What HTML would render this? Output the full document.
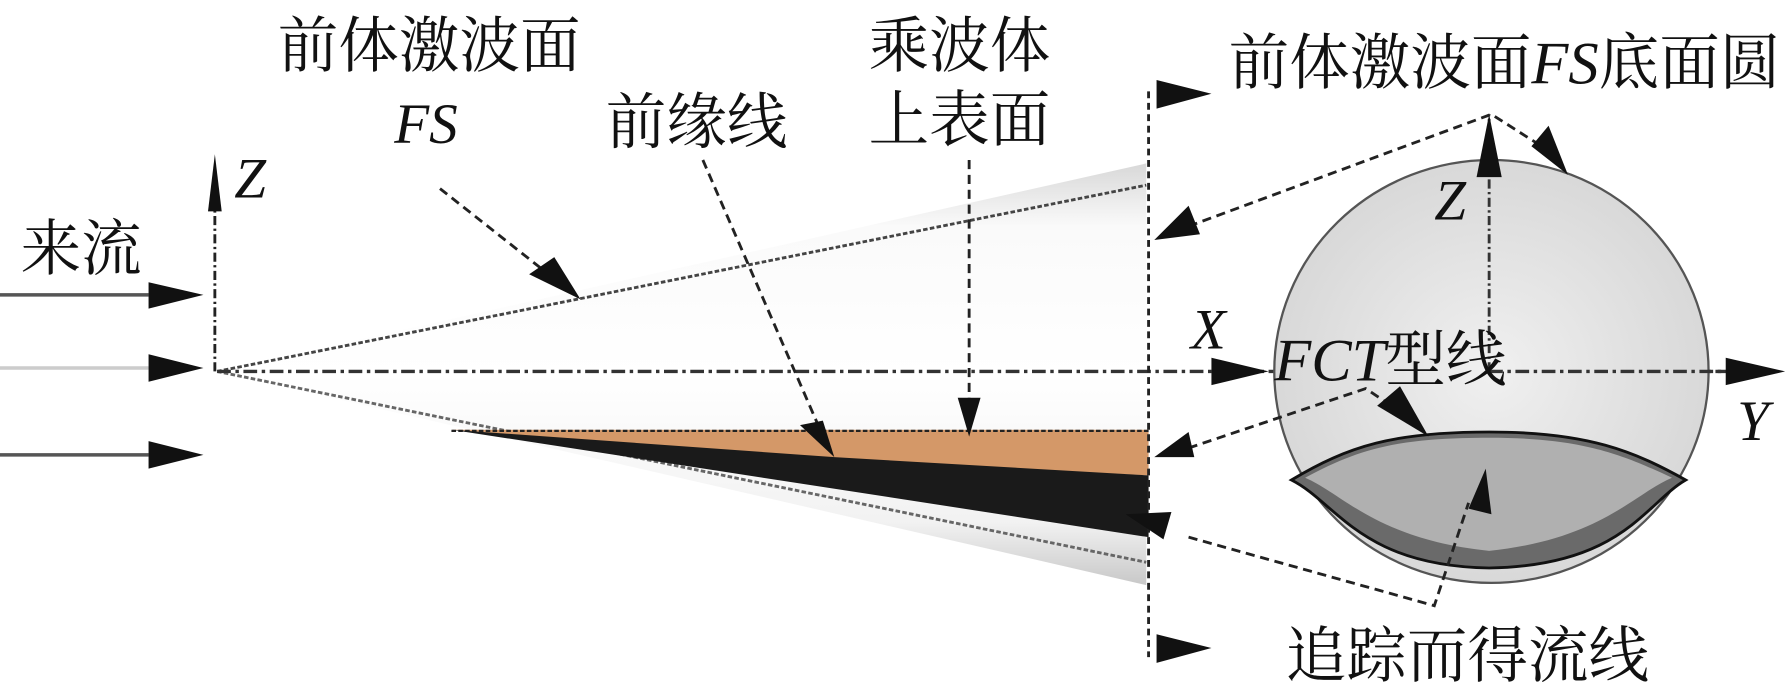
<!DOCTYPE html>
<html><head><meta charset="utf-8"><style>
html,body{margin:0;padding:0;background:#fff;width:1792px;height:696px;overflow:hidden}
svg{display:block}
text{font-family:"Liberation Serif","Noto Serif CJK SC",serif;fill:#111}
.cj{font-family:"Liberation Serif","Noto Serif CJK SC","Noto Sans CJK SC",serif;font-size:53px}
.it{font-style:italic;font-size:50px}
</style></head><body>
<svg width="1792" height="696" viewBox="0 0 1568 609" preserveAspectRatio="none">
<defs>
<linearGradient id="cone" x1="0" y1="0" x2="0" y2="1">
<stop offset="0" stop-color="#d8d8d8"/><stop offset="0.15" stop-color="#fafafa"/><stop offset="0.5" stop-color="#ffffff"/><stop offset="0.85" stop-color="#f2f2f2"/><stop offset="1" stop-color="#c8c8c8"/></linearGradient>
<radialGradient id="disc" cx="0.5" cy="0.5" r="0.55"><stop offset="0" stop-color="#f0f0f0"/><stop offset="1" stop-color="#d6d6d6"/></radialGradient>
</defs>
<polygon points="190,325 1003,143 1003,512" fill="url(#cone)"/>
<line x1="190" y1="325" x2="1003" y2="162" stroke="#444" stroke-width="2.5" stroke-dasharray="4,2"/>
<line x1="190" y1="325" x2="1003" y2="492" stroke="#666" stroke-width="2.5" stroke-dasharray="4,2"/>
<polygon points="395,376 1005,376 1005,416 730,402" fill="#d49868"/>
<line x1="395" y1="377" x2="1005" y2="377" stroke="#222" stroke-width="2" stroke-dasharray="4,2"/>
<polygon points="395,376 730,400 1005,416 1005,470" fill="#1a1a1a"/>
<line x1="188" y1="325" x2="188" y2="180" stroke="#222" stroke-width="2.5" stroke-dasharray="8,3,2,3"/>
<polygon points="182,185 194,185 188,135" fill="#111"/>
<text x="205" y="173" class="it">Z</text>
<line x1="0" y1="258" x2="130" y2="258" stroke="#555" stroke-width="3"/>
<polygon points="130,247 130,270 178,258" fill="#111"/>
<line x1="0" y1="322" x2="130" y2="322" stroke="#ccc" stroke-width="3"/>
<polygon points="130,310 130,334 178,322" fill="#111"/>
<line x1="0" y1="398" x2="130" y2="398" stroke="#555" stroke-width="3"/>
<polygon points="130,386 130,410 178,398" fill="#111"/>
<text x="18" y="236" class="cj">来流</text>
<line x1="190" y1="325" x2="1520" y2="325" stroke="#333" stroke-width="3" stroke-dasharray="12,4,3,4"/>
<ellipse cx="1305" cy="325" rx="190" ry="185" fill="url(#disc)" stroke="#555" stroke-width="2"/>
<path d="M1130,420 C1180,390 1220,378 1303,378 C1390,378 1430,395 1475,420 C1440,440 1420,495 1303,497 C1190,495 1170,440 1130,420 Z" fill="#6a6a6a" stroke="#111" stroke-width="2.5"/>
<path d="M1142,418 C1190,392 1225,383 1303,383 C1385,383 1420,398 1463,418 C1430,432 1400,472 1303,482 C1205,472 1175,432 1142,418 Z" fill="#b0b0b0"/>
<line x1="1303" y1="325" x2="1303" y2="100" stroke="#333" stroke-width="2.5" stroke-dasharray="8,3,2,3"/>
<line x1="1303" y1="325" x2="1510" y2="325" stroke="#333" stroke-width="3" stroke-dasharray="12,4,3,4"/>
<polygon points="1292,155 1314,155 1303,100" fill="#111"/>
<polygon points="1510,313 1510,337 1562,325" fill="#111"/>
<polygon points="1060,313 1060,337 1110,325" fill="#111"/>
<line x1="1005" y1="80" x2="1005" y2="575" stroke="#222" stroke-width="2.5" stroke-dasharray="6,4"/>
<polygon points="1012,70 1012,95 1060,82" fill="#111"/>
<polygon points="1012,555 1012,580 1060,567" fill="#111"/>
<g stroke="#222" stroke-width="2.5" stroke-dasharray="8,5" fill="none">
<line x1="385" y1="165" x2="480" y2="240"/>
<line x1="615" y1="140" x2="715" y2="370"/>
<line x1="848" y1="140" x2="848" y2="350"/>
<polyline points="1040,198 1305,100 1360,135"/>
<polyline points="1040,392 1195,340 1225,360"/>
<polyline points="1040,470 1255,530 1285,440"/>
</g>
<polygon points="463,240 485,225 508,262" fill="#111"/>
<polygon points="700,372 720,368 730,400" fill="#111"/>
<polygon points="838,348 858,348 848,382" fill="#111"/>
<polygon points="1010,210 1040,180 1050,205" fill="#111"/>
<polygon points="1340,128 1355,110 1372,153" fill="#111"/>
<polygon points="1010,400 1040,378 1045,400" fill="#111"/>
<polygon points="1205,355 1225,338 1250,382" fill="#111"/>
<polygon points="985,450 1025,448 1018,472" fill="#111"/>
<polygon points="1285,445 1305,450 1300,410" fill="#111"/>
<text x="243" y="58" class="cj">前体激波面</text>
<text x="345" y="125" class="it">FS</text>
<text x="760" y="58" class="cj">乘波体</text>
<text x="760" y="123" class="cj">上表面</text>
<text x="530" y="125" class="cj">前缘线</text>
<text x="1075" y="73" class="cj">前体激波面<tspan font-style="italic">FS</tspan>底面圆</text>
<text x="1255" y="192" class="it">Z</text>
<text x="1042" y="305" class="it">X</text>
<text x="1115" y="333" class="cj"><tspan font-style="italic">FCT</tspan>型线</text>
<text x="1520" y="385" class="it">Y</text>
<text x="1125" y="592" class="cj">追踪而得流线</text>
</svg>
</body></html>
